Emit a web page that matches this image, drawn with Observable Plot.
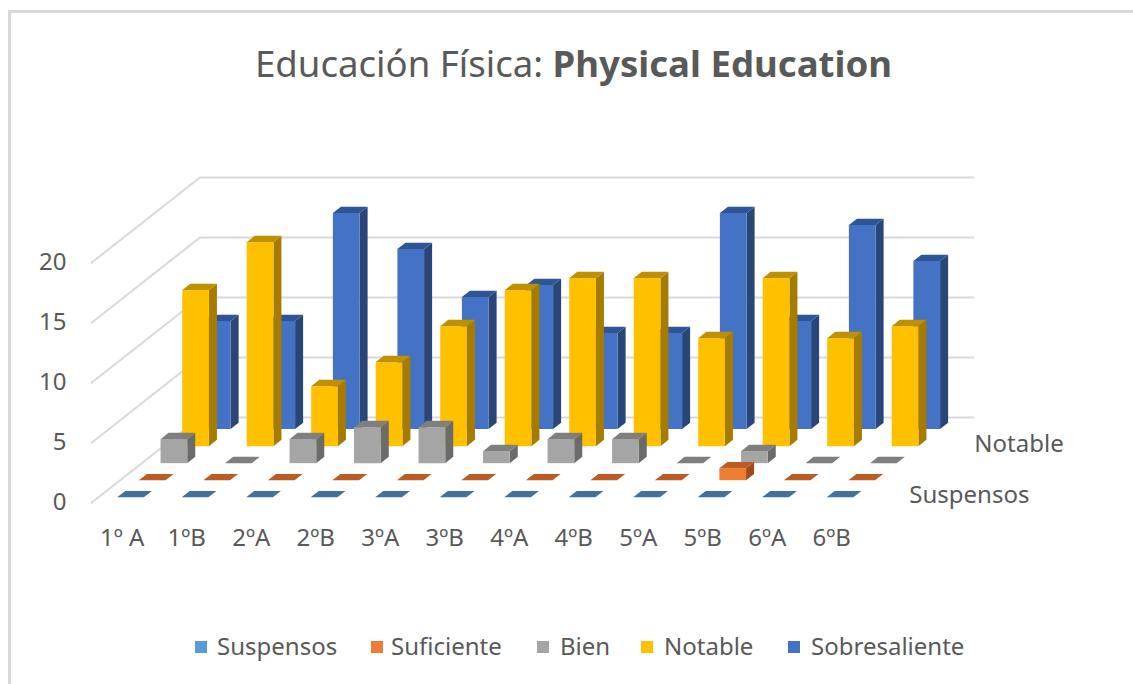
<!DOCTYPE html>
<html lang="es">
<head>
<meta charset="utf-8">
<script src="https://cdn.jsdelivr.net/npm/d3@7"></script>
<script src="https://cdn.jsdelivr.net/npm/@observablehq/plot@0.6"></script>
<style>
  html, body { margin: 0; padding: 0; background: #fff; width: 1133px; height: 684px; overflow: hidden; }
  body { font-family: "Noto Sans", "Open Sans", sans-serif; color: #595959; }
  #frame { position: absolute; left: 8px; top: 10px; width: 1125px; height: 674px; box-sizing: border-box;
           border-left: 3px solid #d9d9d9; border-top: 3px solid #d9d9d9; }
  #title { position: absolute; left: 255px; top: 37px; font-size: 36.6px; line-height: 52px; white-space: nowrap; }
  #title b { font-weight: 700; }
  #chart { position: absolute; left: 0; top: 110px; }
  #legend { position: absolute; left: 0; top: 629px; width: 1133px; height: 34px; font-size: 24px; line-height: 34px; }
  #legend span { position: absolute; white-space: nowrap; }
  #legend i { position: absolute; width: 12px; height: 12px; top: 12px; }
</style>
</head>
<body>
<div id="frame"></div>
<div id="title">Educación Física: <b>Physical Education</b></div>
<div id="chart"></div>
<div id="legend"></div>
<script>
const classes = ["1º A","1ºB","2ºA","2ºB","3ºA","3ºB","4ºA","4ºB","5ºA","5ºB","6ºA","6ºB"];
const seriesNames = ["Suspensos","Suficiente","Bien","Notable","Sobresaliente"];
const suspensos     = [0,0,0,0,0,0,0,0,0,0,0,0];
const suficiente    = [0,0,0,0,0,0,0,0,0,1,0,0];
const bien          = [2,0,2,3,3,1,2,2,0,1,0,0];
const notable       = [13,17,5,7,10,13,14,14,9,14,9,10];
const sobresaliente = [9,9,18,15,11,12,8,8,18,9,17,14];
const seriesValues = [suspensos,suficiente,bien,notable,sobresaliente];
const valueTicks = [0,5,10,15,20];
const depthTickSeries = ["Suspensos","Notable"];

const frontColors = ["#5B9BD5","#ED7D31","#A5A5A5","#FFC000","#4472C4"];
const topColors   = ["#41719C","#BE5B22","#7F7F7F","#BF9000","#2F5597"];
const sideColors  = ["#386288","#9E4C1C","#6B6B6B","#A67C00","#2A4678"];

// Oblique projection of (category, value, depth row) onto the plot's x/y scales.
const skewX = 0.336, skewY = 1.42, barWidth = 0.414, barDepth = 0.37;
const floorNear = -0.32, floorFar = 4.68, floorLeft = -0.29, floorRight = 11.7;
const px = (cat, row) => cat + row * skewX;
const py = (val, row) => val + (row - floorNear) * skewY;

const polys = [];
function addPoly(id, color, corners) { corners.forEach(([u, v]) => polys.push({id, color, u, v})); }
for (let s = seriesNames.length - 1; s >= 0; s--) {
  seriesValues[s].forEach((val, c) => {
    const x0 = c, x1 = c + barWidth, d0 = s, d1 = s + barDepth;
    const key = `${s}-${c}`;
    addPoly(key + "-side", sideColors[s], [[px(x1,d0),py(0,d0)],[px(x1,d1),py(0,d1)],[px(x1,d1),py(val,d1)],[px(x1,d0),py(val,d0)]]);
    addPoly(key + "-front", frontColors[s], [[px(x0,d0),py(0,d0)],[px(x1,d0),py(0,d0)],[px(x1,d0),py(val,d0)],[px(x0,d0),py(val,d0)]]);
    addPoly(key + "-top", topColors[s], [[px(x0,d0),py(val,d0)],[px(x1,d0),py(val,d0)],[px(x1,d1),py(val,d1)],[px(x0,d1),py(val,d1)]]);
  });
}

const grid = valueTicks.flatMap(t => [
  {t, u: px(floorLeft, floorNear), v: py(t, floorNear)},
  {t, u: px(floorLeft, floorFar), v: py(t, floorFar)},
  {t, u: px(floorRight, floorFar), v: py(t, floorFar)}
]);

const depthLabels = depthTickSeries.map(name => {
  const row = seriesNames.indexOf(name);
  return {name, u: px(12.22, row + 0.18), v: py(0, row + 0.18)};
});

const chart = Plot.plot({
  width: 1133, height: 510,
  marginLeft: 66, marginRight: 0, marginTop: 0, marginBottom: 92,
  x: {domain: [-1, 14], range: [52.2, 1019.7], axis: null},
  y: {domain: [0, 30], range: [392.2, 32.2], axis: null},
  color: {type: "identity"},
  marks: [
    Plot.line(grid, {x: "u", y: "v", z: "t", stroke: "#d9d9d9", strokeWidth: 2}),
    Plot.line(polys, {x: "u", y: "v", z: "id", fill: "color", stroke: "none"}),
    Plot.axisY({ticks: valueTicks, anchor: "left", tickSize: 0, tickPadding: 0, label: null, fontSize: 24, dy: -0.5, color: "#595959"}),
    Plot.axisX({ticks: d3.range(classes.length), tickFormat: i => classes[i], anchor: "bottom", tickSize: 0, tickPadding: 0, label: null, fontSize: 24, dx: 5, color: "#595959"}),
    Plot.text(depthLabels, {x: "u", y: "v", text: "name", textAnchor: "start", fontSize: 24, dy: 1, fill: "#595959"})
  ],
  style: {fontFamily: '"Noto Sans", "Open Sans", sans-serif', background: "transparent", overflow: "visible"}
});
document.getElementById("chart").append(chart);

const legendSlots = [[195,217],[371,391],[537,560],[641,664],[788,811]];
const legend = document.getElementById("legend");
seriesNames.forEach((name, i) => {
  const sw = document.createElement("i");
  sw.style.left = legendSlots[i][0] + "px"; sw.style.background = frontColors[i];
  const t = document.createElement("span");
  t.style.left = legendSlots[i][1] + "px"; t.textContent = name;
  legend.append(sw, t);
});
</script>
</body>
</html>
